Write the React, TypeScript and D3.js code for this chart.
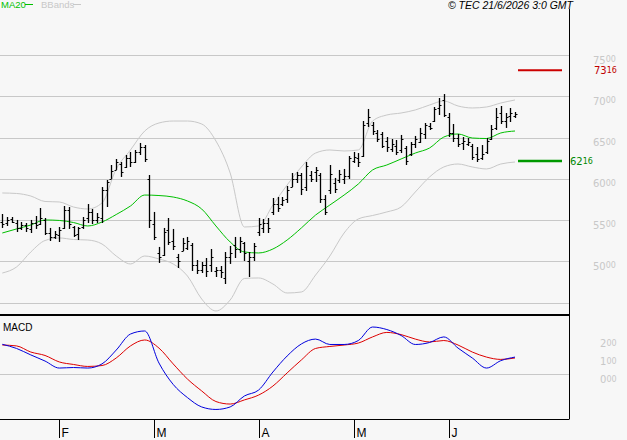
import * as d3 from 'd3'

// daily OHLC, mid-January to 19 June
const highs = [
  5573, 5537, 5537, 5501, 5476, 5464, 5501, 5549, 5646, 5525, 5404, 5367,
  5416, 5670, 5658, 5428, 5416, 5537, 5694, 5634, 5585, 5900, 5985, 6167, 6240, 6203, 6288, 6325, 6349, 6434, 6409, 6046,
  5598, 5174, 5404, 5525, 5392, 5089, 5283, 5295, 5222, 5016, 4992, 5040, 5149, 4931, 4943, 5113, 5186, 5295, 5295, 5234,
  5113, 5222, 5525, 5513, 5525, 5767, 5779, 5779, 5913, 6070, 6082, 6070, 6203, 6094, 6143, 6070, 5803, 6167, 6010, 6107,
  6119, 6276, 6325, 6312, 6700, 6846, 6688, 6591, 6567, 6506, 6482, 6470, 6531, 6397, 6446, 6519, 6616, 6676, 6676, 6870,
  6979, 7027, 6797, 6664, 6543, 6506, 6494, 6422, 6385, 6409, 6494, 6652, 6858, 6882, 6797, 6858, 6809,
]
const lows = [
  5404, 5428, 5464, 5355, 5379, 5355, 5343, 5392, 5440, 5319, 5246, 5271,
  5234, 5392, 5392, 5295, 5258, 5392, 5464, 5452, 5464, 5464, 5658, 5998, 6107, 6022, 6131, 6143, 6191, 6288, 6203, 5404,
  5258, 4980, 5064, 5198, 5137, 4919, 5125, 5137, 4883, 4846, 4858, 4810, 4871, 4810, 4798, 4725, 4968, 5040, 5101, 5004,
  4810, 5004, 5307, 5343, 5343, 5561, 5598, 5670, 5707, 5900, 5949, 5803, 5852, 5961, 5961, 5707, 5561, 5816, 5828, 5949,
  5937, 5998, 6191, 6143, 6264, 6628, 6531, 6446, 6373, 6325, 6325, 6288, 6312, 6167, 6276, 6373, 6434, 6482, 6591, 6688,
  6773, 6749, 6506, 6446, 6385, 6349, 6397, 6228, 6203, 6228, 6300, 6470, 6591, 6664, 6616, 6688, 6737,
]
const opens = [
  5480, 5460, 5510, 5470, 5400, 5440, 5390, 5470, 5450, 5500, 5340, 5300,
  5320, 5400, 5620, 5420, 5330, 5410, 5520, 5600, 5500, 5530, 5860, 6000, 6110, 6180, 6140, 6250, 6200, 6330, 6390, 6000,
  5450, 5100, 5080, 5380, 5250, 5050, 5130, 5160, 5200, 4960, 4900, 4950, 4950, 4880, 4900, 4800, 5050, 5200, 5150, 5220,
  5000, 5050, 5350, 5400, 5460, 5600, 5700, 5700, 5760, 5900, 6000, 6040, 5900, 6050, 6080, 6050, 5750, 5870, 5950, 5980,
  6000, 6030, 6220, 6250, 6280, 6680, 6650, 6560, 6540, 6460, 6360, 6400, 6350, 6370, 6300, 6420, 6450, 6540, 6640, 6700,
  6860, 6960, 6750, 6560, 6500, 6430, 6420, 6400, 6300, 6250, 6330, 6480, 6620, 6800, 6700, 6760, 6760,
]
const closes = [
  5450, 5500, 5480, 5400, 5440, 5400, 5470, 5440, 5520, 5340, 5300, 5330,
  5380, 5620, 5450, 5320, 5400, 5500, 5600, 5500, 5540, 5860, 5960, 6100, 6200, 6080, 6250, 6200, 6320, 6390, 6240, 5500,
  5300, 5050, 5350, 5230, 5180, 5000, 5220, 5250, 4950, 4900, 4950, 4880, 5050, 4900, 4870, 5050, 5100, 5150, 5250, 5100,
  5050, 5180, 5450, 5460, 5400, 5700, 5640, 5740, 5870, 6000, 6050, 5880, 6150, 6000, 6110, 5750, 5600, 6060, 5880, 6060,
  6030, 6250, 6260, 6200, 6650, 6750, 6580, 6480, 6400, 6380, 6420, 6320, 6480, 6220, 6420, 6480, 6560, 6650, 6620, 6850,
  6900, 6770, 6560, 6500, 6420, 6460, 6450, 6260, 6240, 6300, 6460, 6600, 6750, 6700, 6750, 6800, 6790,
]

// indicators, read every third session
const ma20 = [
  5343, 5392, 5440, 5501, 5495, 5470, 5428, 5476, 5567, 5670, 5803, 5797, 5779, 5731, 5634, 5428, 5234, 5113, 5101,
  5149, 5258, 5404, 5561, 5682, 5803, 5937, 6107, 6167, 6240, 6312, 6373, 6506, 6543, 6494, 6488, 6555, 6579,
]
const bandUpper = [
  5828, 5822, 5791, 5725, 5719, 5658, 5634, 5707, 6119, 6349, 6579, 6676, 6700, 6700, 6664, 6458, 6070, 5416, 5428,
  5682, 5925, 6143, 6312, 6349, 6337, 6349, 6700, 6773, 6797, 6834, 6894, 6943, 6882, 6858, 6870, 6918, 6955,
]
const bandLower = [
  4858, 4931, 5113, 5252, 5283, 5264, 5258, 5210, 5064, 4968, 5064, 5028, 4968, 4822, 4543, 4398, 4531, 4792, 4798,
  4725, 4616, 4628, 4834, 5064, 5343, 5513, 5555, 5598, 5658, 5840, 6022, 6143, 6179, 6143, 6119, 6179, 6203,
]
const macdLine = [
  165, 142, 106, 72, 33, 36, 33, 56, 133, 222, 239, 61, -58, -131, -183, -197, -183, -122, -89,
  11, 100, 167, 194, 164, 164, 186, 261, 247, 214, 164, 175, 206, 144, 89, 33, 74, 94,
]
const signalLine = [
  161, 156, 122, 103, 67, 53, 42, 47, 89, 156, 189, 144, 56, -28, -94, -153, -167, -144, -117,
  -67, 6, 78, 142, 153, 161, 172, 206, 231, 219, 194, 178, 186, 161, 122, 94, 81, 89,
]

const monthLabels = ['F', 'M', 'A', 'M', 'J']
const monthStart = [12, 32, 54, 74, 94]
const priceTicks = [5000, 5500, 6000, 6500, 7000, 7500]
const priceGrid = [4500, 5000, 5500, 6000, 6500, 7000, 7500]
const macdTicks = [0, 100, 200]
const resistance = 7316
const support = 6216

const W = 627
const H = 440
const plotRight = 569
const sans = 'DejaVu Sans, Verdana, sans-serif'
const grey = '#c8c8c8'

function SplitLabel({ x, y, value, color, digits }: { x: number; y: number; value: string; color: string; digits: number }) {
  const head = value.slice(0, value.length - digits)
  const tail = value.slice(value.length - digits)
  return (
    <text x={x} y={y} fill={color} fontFamily={sans} fontSize={10}>
      {head}
      <tspan fontSize={8} dy={-1.5}>{tail}</tspan>
    </text>
  )
}

export default function App() {
  const n = highs.length
  const x = d3.scaleLinear().domain([0, n - 1]).range([2.3, 515])
  const y = d3.scaleLinear().domain([5000, 7500]).range([261.3, 55])
  const ym = d3.scaleLinear().domain([0, 200]).range([374, 338])
  const idx = d3.range(0, n, 3)

  const priceLine = d3
    .line<number>()
    .x((_, i) => x(idx[i]))
    .y((d) => y(d))
    .curve(d3.curveMonotoneX)
  const macdPath = d3
    .line<number>()
    .x((_, i) => x(idx[i]))
    .y((d) => ym(d))
    .curve(d3.curveMonotoneX)

  const px = (v: number) => Math.round(v) + 0.5

  return (
    <svg
      width={W}
      height={H}
      style={{ position: 'absolute', left: 0, top: 0, display: 'block' }}
      shapeRendering="auto"
    >
      <rect x={0} y={0} width={W} height={H} fill="#f7f7f7" />

      {/* grid */}
      {priceGrid.map((v) => (
        <line key={v} x1={0} x2={plotRight} y1={px(y(v))} y2={px(y(v))} stroke={grey} strokeWidth={1} />
      ))}
      <line x1={0} x2={plotRight} y1={px(ym(0))} y2={px(ym(0))} stroke={grey} strokeWidth={1} />

      {/* legend */}
      <text x={1} y={8} fill="#00c000" fontFamily="Liberation Sans, Arial, sans-serif" fontSize={9.5}>MA20</text>
      <line x1={25} x2={33} y1={4.5} y2={4.5} stroke="#00c000" strokeWidth={1} />
      <text x={41} y={8} fill={grey} fontFamily="Liberation Sans, Arial, sans-serif" fontSize={9.5}>BBands</text>
      <line x1={73} x2={81} y1={4.5} y2={4.5} stroke={grey} strokeWidth={1} />
      <text x={573} y={9} textAnchor="end" fill="#000" fontFamily="Liberation Sans, Arial, sans-serif" fontSize={10.5} fontStyle="italic">
        © TEC 21/6/2026 3:0 GMT
      </text>

      {/* bollinger bands and MA */}
      <path d={priceLine(bandUpper) ?? ''} fill="none" stroke={grey} strokeWidth={1} />
      <path d={priceLine(bandLower) ?? ''} fill="none" stroke={grey} strokeWidth={1} />
      <path d={priceLine(ma20) ?? ''} fill="none" stroke="#00c000" strokeWidth={1} />

      {/* OHLC bars */}
      <g stroke="#000" strokeWidth={1.3}>
        {highs.map((h, i) => {
          const cx = Math.round(x(i)) + 0.5
          return (
            <g key={i}>
              <line x1={cx} x2={cx} y1={y(h)} y2={y(lows[i])} />
              <line x1={cx - 2} x2={cx} y1={Math.round(y(opens[i])) + 0.5} y2={Math.round(y(opens[i])) + 0.5} strokeWidth={1} />
              <line x1={cx} x2={cx + 2} y1={Math.round(y(closes[i])) + 0.5} y2={Math.round(y(closes[i])) + 0.5} strokeWidth={1} />
            </g>
          )
        })}
      </g>

      {/* resistance / support */}
      <line x1={518} x2={562} y1={y(resistance)} y2={y(resistance)} stroke="#cc0000" strokeWidth={2} />
      <line x1={518} x2={562} y1={y(support)} y2={y(support)} stroke="#009900" strokeWidth={2.5} />
      <SplitLabel x={594} y={y(resistance) + 4.3} value={String(resistance)} color="#c00000" digits={2} />
      <SplitLabel x={570} y={y(support) + 4.5} value={String(support)} color="#008800" digits={2} />

      {/* price axis labels */}
      {priceTicks.map((v) => (
        <SplitLabel key={v} x={593} y={y(v) + 8.5} value={String(v)} color={grey} digits={2} />
      ))}

      {/* MACD panel */}
      <text x={3} y={331} fill="#000" fontFamily="Liberation Sans, Arial, sans-serif" fontSize={10}>MACD</text>
      <path d={macdPath(signalLine) ?? ''} fill="none" stroke="#dd0000" strokeWidth={1} />
      <path d={macdPath(macdLine) ?? ''} fill="none" stroke="#0000dd" strokeWidth={1} />
      {macdTicks.map((v) => (
        <SplitLabel key={v} x={600} y={ym(v) + 9} value={v === 0 ? '000' : String(v)} color={grey} digits={2} />
      ))}

      {/* frame */}
      <line x1={0} x2={plotRight} y1={315} y2={315} stroke="#000" strokeWidth={2} />
      <line x1={plotRight + 0.5} x2={plotRight + 0.5} y1={9} y2={419.5} stroke="#000" strokeWidth={1} />
      <line x1={0} x2={plotRight} y1={419.5} y2={419.5} stroke="#000" strokeWidth={1} />

      {/* month ticks */}
      {monthStart.map((m, i) => (
        <g key={i}>
          <line x1={px(x(m))} x2={px(x(m))} y1={419} y2={438} stroke="#000" strokeWidth={1} />
          <text x={px(x(m)) + 2} y={437} fill="#000" fontFamily="Liberation Sans, Arial, sans-serif" fontSize={12}>
            {monthLabels[i]}
          </text>
        </g>
      ))}
    </svg>
  )
}
